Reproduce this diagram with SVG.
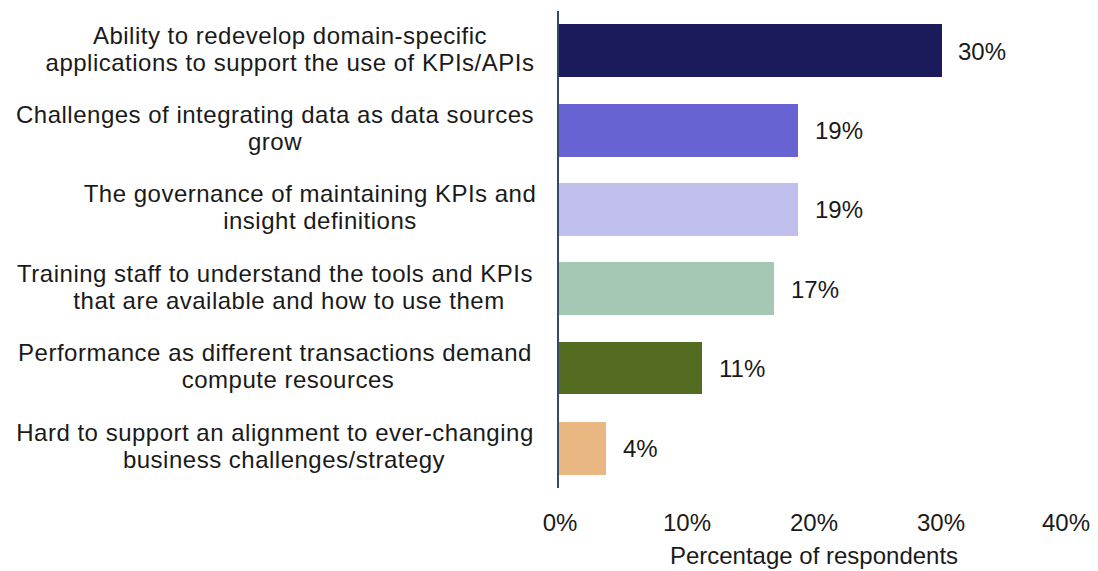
<svg xmlns="http://www.w3.org/2000/svg" width="1098" height="571" viewBox="0 0 1098 571">
  <style>
    text { font-family: "Liberation Sans", Arial, sans-serif; fill: #1a1a1a; font-size: 24px; }
    .cat { text-anchor: middle; letter-spacing: 0.5px; }
    .tick { text-anchor: middle; }
    .title { text-anchor: middle; }
    .axis { stroke: #2f4d6b; stroke-width: 2; fill: none; }
  </style>
  <rect width="1098" height="571" fill="#ffffff"/>

  <!-- category labels -->
  <g id="label-1" class="cat">
    <text x="290" y="44">Ability to redevelop domain-specific</text>
    <text x="290" y="71">applications to support the use of KPIs/APIs</text>
  </g>
  <g id="label-2" class="cat">
    <text x="275" y="123">Challenges of integrating data as data sources</text>
    <text x="275" y="150">grow</text>
  </g>
  <g id="label-3" class="cat">
    <text x="310" y="202">The governance of maintaining KPIs and</text>
    <text x="320" y="229">insight definitions</text>
  </g>
  <g id="label-4" class="cat">
    <text x="275" y="282">Training staff to understand the tools and KPIs</text>
    <text x="289" y="309">that are available and how to use them</text>
  </g>
  <g id="label-5" class="cat">
    <text x="275" y="361">Performance as different transactions demand</text>
    <text x="288" y="388">compute resources</text>
  </g>
  <g id="label-6" class="cat">
    <text x="275" y="441">Hard to support an alignment to ever-changing</text>
    <text x="284" y="468">business challenges/strategy</text>
  </g>

  <!-- bars -->
  <g id="bar-1"><rect x="559" y="24" width="383" height="53" fill="#1b1a5a"/><text x="958" y="60">30%</text></g>
  <g id="bar-2"><rect x="559" y="104" width="239" height="53" fill="#6863d3"/><text x="815" y="139">19%</text></g>
  <g id="bar-3"><rect x="559" y="183" width="239" height="53" fill="#c0bfee"/><text x="815" y="218">19%</text></g>
  <g id="bar-4"><rect x="559" y="262" width="215" height="53" fill="#a3c9b5"/><text x="791" y="298">17%</text></g>
  <g id="bar-5"><rect x="559" y="342" width="143" height="52" fill="#546b22"/><text x="719" y="377">11%</text></g>
  <g id="bar-6"><rect x="559" y="422" width="47" height="53" fill="#e9b882"/><text x="623" y="457">4%</text></g>

  <!-- axis -->
  <g id="connectors">
    <line class="axis" x1="558" y1="11" x2="558" y2="488"/>
  </g>
  <g id="x-axis" class="tick">
    <text x="560" y="531">0%</text>
    <text x="687" y="531">10%</text>
    <text x="814" y="531">20%</text>
    <text x="941" y="531">30%</text>
    <text x="1066" y="531">40%</text>
    <text class="title" x="814" y="564">Percentage of respondents</text>
  </g>
</svg>
